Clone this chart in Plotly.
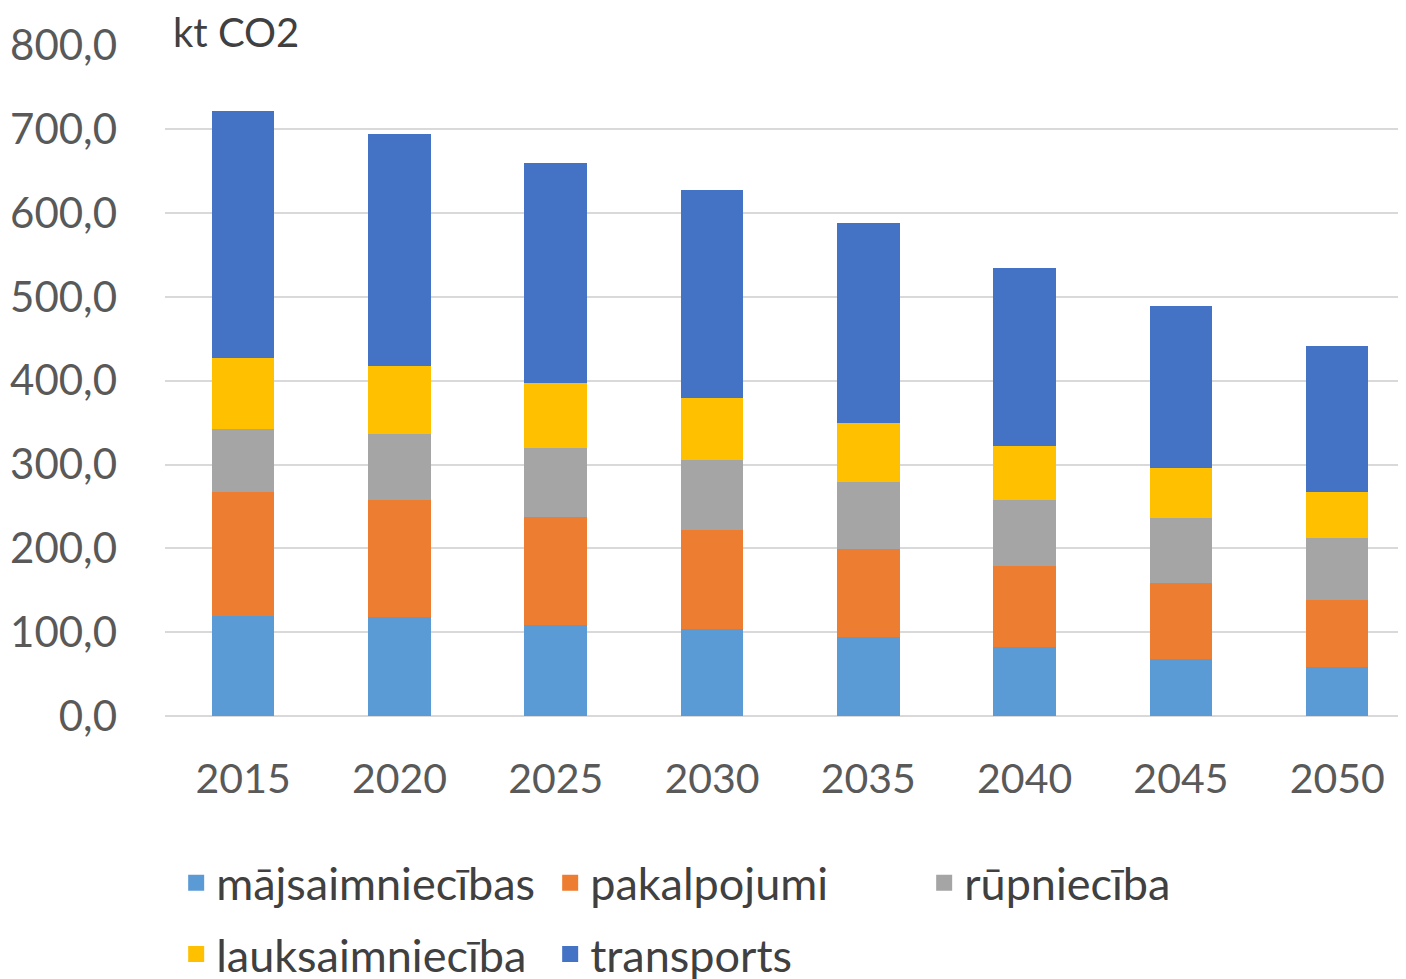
import plotly.graph_objects as go

years = ["2015", "2020", "2025", "2030", "2035", "2040", "2045", "2050"]
majsaimniecibas = [119.6, 117.6, 108.1, 104.0, 94.6, 82.3, 67.6, 58.0]
pakalpojumi = [147.4, 139.9, 129.9, 118.0, 104.1, 96.9, 90.6, 80.7]
rupnieciba = [74.8, 79.0, 81.9, 84.0, 80.6, 78.7, 77.8, 73.1]
lauksaimnieciba = [85.8, 81.5, 77.5, 73.0, 70.0, 64.0, 59.7, 54.9]
transports = [294.0, 276.6, 261.9, 249.0, 238.4, 212.1, 193.9, 174.4]

series = [
    ("mājsaimniecības", majsaimniecibas, "#5B9BD5", "legend"),
    ("pakalpojumi", pakalpojumi, "#ED7D31", "legend"),
    ("rūpniecība", rupnieciba, "#A5A5A5", "legend"),
    ("lauksaimniecība", lauksaimnieciba, "#FFC000", "legend2"),
    ("transports", transports, "#4472C4", "legend2"),
]

font = "Lato, 'Open Sans', sans-serif"
fig = go.Figure()
for name, vals, col, leg in series:
    fig.add_trace(go.Bar(x=years, y=vals, name=name, marker_color=col,
                         marker_line_width=0, showlegend=False))
    # legend entry with a bigger square swatch
    fig.add_trace(go.Scatter(x=[None], y=[None], name=name, mode="markers",
                             marker=dict(symbol="square", size=26, color=col),
                             legend=leg))

leg_style = dict(orientation="h", xanchor="left", yanchor="middle",
                 traceorder="normal", itemsizing="trace",
                 font=dict(size=45, color="#404040", family=font),
                 entrywidth=329, entrywidthmode="pixels",
                 bgcolor="rgba(0,0,0,0)", itemclick=False)

# page body has an 8px margin, so size/margins are set 8px smaller
fig.update_layout(
    barmode="stack",
    bargap=0.6,
    width=1398, height=971,
    margin=dict(l=157, r=0, t=37, b=263, autoexpand=False),
    paper_bgcolor="white", plot_bgcolor="white",
    separators=", ",
    font=dict(family=font, color="#595959"),
    legend=dict(x=0.009, y=-0.249, **leg_style),
    legend2=dict(x=0.009, y=-0.355, **leg_style),
    xaxis=dict(tickfont=dict(size=41, color="#595959"), showline=False,
               ticks="", ticklabelstandoff=35, range=[-0.5, 7.44]),
    yaxis=dict(range=[0, 800.5], dtick=100, tickformat=".1f",
               tickfont=dict(size=42, color="#595959"),
               gridcolor="#D9D9D9", gridwidth=2, zeroline=True,
               zerolinecolor="#D9D9D9", zerolinewidth=2,
               ticklabelstandoff=47),
    annotations=[dict(text="kt CO2", xref="paper", yref="paper", x=0.005, y=1.019,
                      xanchor="left", yanchor="middle", showarrow=False,
                      font=dict(size=40, color="#404040", family=font))],
)

fig.write_html("out.html")
